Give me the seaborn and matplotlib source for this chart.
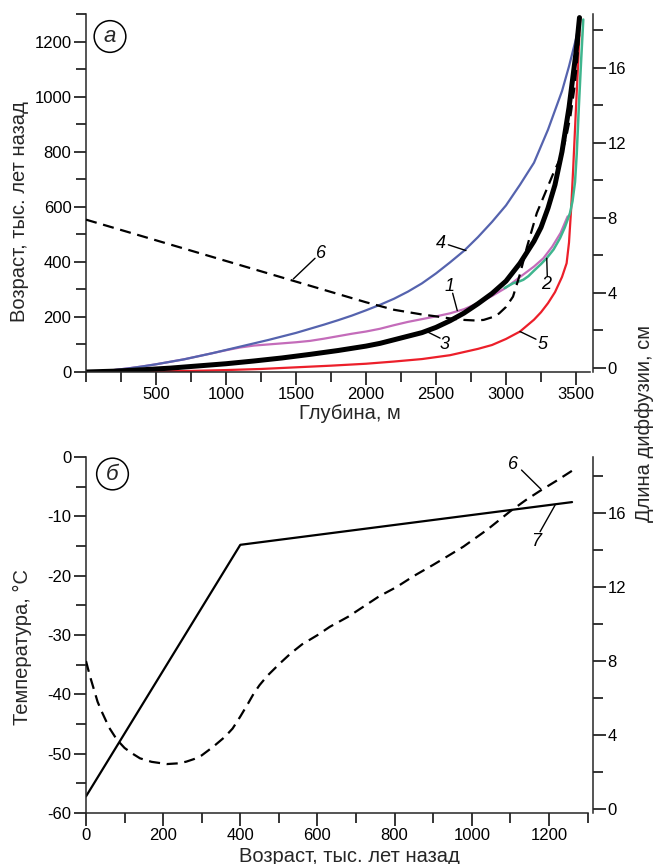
import matplotlib
matplotlib.use("Agg")
import matplotlib.pyplot as plt
from matplotlib.ticker import MultipleLocator, FixedLocator
import numpy as np
import pandas as pd
import seaborn as sns

# ---- data: panel (a), age (ka) vs depth (m) ----
depth_4 = [0, 100, 200, 300, 400, 500, 600, 700, 800, 900, 1000, 1100, 1200, 1300, 1400, 1500,
           1600, 1700, 1800, 1900, 2000, 2100, 2200, 2300, 2400, 2500, 2600, 2700, 2800, 2900,
           3000, 3100, 3200, 3300, 3400, 3450, 3500, 3529]
age_4 = [0, 3, 7, 13, 20, 28, 37, 46, 57, 68, 80, 92, 104, 116, 129, 142,
         157, 172, 188, 205, 224, 244, 266, 292, 322, 358, 398, 440, 490, 545,
         605, 680, 760, 880, 1020, 1110, 1210, 1287]

depth_1 = [0, 100, 200, 300, 400, 500, 600, 700, 800, 900, 1000, 1100, 1200, 1300, 1400, 1500,
           1600, 1700, 1800, 1900, 2000, 2100, 2200, 2300, 2400, 2500, 2600, 2700, 2800, 2900,
           3000, 3100, 3200, 3267, 3330, 3390, 3440]
age_1 = [0, 3, 7, 13, 20, 28, 37, 46, 57, 68, 79, 89, 96, 100, 104, 108,
         113, 121, 130, 139, 147, 157, 170, 182, 192, 202, 213, 228, 250, 276,
         306, 345, 383, 413, 455, 505, 565]

depth_3 = [0, 200, 400, 600, 800, 1000, 1200, 1400, 1600, 1800, 2000, 2100, 2200, 2300, 2400,
           2500, 2600, 2700, 2800, 2900, 3000, 3100, 3200, 3250, 3300, 3350, 3400, 3450, 3500, 3525]
age_3 = [0, 3, 8, 14, 22, 30, 40, 51, 64, 78, 94, 104, 117, 130, 143,
         162, 186, 214, 248, 285, 330, 395, 475, 525, 595, 680, 800, 960, 1160, 1287]

depth_5 = [0, 250, 500, 750, 1000, 1250, 1500, 1750, 2000, 2200, 2400, 2600, 2800, 2900, 3000,
           3100, 3200, 3250, 3300, 3350, 3400, 3433, 3450, 3465, 3480, 3500, 3515, 3530]
age_5 = [0, 1, 2, 4, 7, 11, 17, 23, 30, 38, 47, 61, 84, 98, 120,
         147, 190, 217, 250, 290, 345, 395, 470, 590, 740, 960, 1120, 1286]

depth_2 = [2990, 3050, 3100, 3124, 3160, 3200, 3250, 3290, 3340, 3386, 3420, 3457, 3475, 3493,
           3505, 3520, 3535, 3552]
age_2 = [305, 322, 330, 335, 348, 368, 392, 413, 445, 486, 525, 577, 620, 690,
         790, 960, 1115, 1280]

# diffusion length (cm) vs depth (m)
depth_6 = [0, 500, 1000, 1500, 2000, 2200, 2400, 2500, 2600, 2700, 2780, 2840, 2900, 2950, 3000,
           3050, 3100, 3150, 3220, 3290, 3340, 3390, 3430, 3460, 3490, 3510, 3528]
diff_6_depth = [7.9, 6.8, 5.7, 4.6, 3.5, 3.1, 2.85, 2.75, 2.64, 2.56, 2.53, 2.56, 2.7, 2.9, 3.25,
                3.8, 5.0, 6.45, 8.25, 9.5, 10.4, 11.2, 12.3, 13.4, 15.0, 16.5, 18.3]

# ---- data: panel (б), temperature (°C) and diffusion length (cm) vs age (ka) ----
age_7 = [0, 400, 1260]
temp_7 = [-57.2, -14.8, -7.6]

age_6 = [0, 10, 20, 30, 40, 60, 80, 100, 120, 140, 170, 210, 240, 260, 280, 300, 330, 360, 380,
         400, 420, 435, 450, 470, 503, 530, 560, 600, 632, 680, 720, 760, 805, 850, 900, 940, 978,
         1040, 1100, 1140, 1177, 1220, 1261]
diff_6_age = [8.0, 7.2, 6.5, 5.8, 5.3, 4.4, 3.75, 3.3, 3.0, 2.74, 2.55, 2.43, 2.47, 2.56, 2.7, 2.9,
              3.37, 3.9, 4.35, 5.0, 5.7, 6.25, 6.7, 7.2, 7.88, 8.4, 8.9, 9.4, 9.85, 10.4, 10.95,
              11.5, 12.0, 12.6, 13.2, 13.7, 14.18, 15.1, 16.1, 16.7, 17.2, 17.75, 18.3]

W, H = 653, 864
FONT = ["Liberation Sans", "DejaVu Sans"]

sns.set_theme(style="ticks")
plt.rcParams["font.family"] = FONT
plt.rcParams["axes.unicode_minus"] = False
plt.rcParams["axes.linewidth"] = 1.1

C_BLUE = "#5563ae"
C_RED = "#ec1f2a"
C_MAG = "#c46cba"
C_GREEN = "#3fb58e"
DASH = (0, (5, 3))

fig = plt.figure(figsize=(W / 100, H / 100), dpi=100)


def fx(px):
    return px / W


def fy(py):
    return 1 - py / H


def style_axes(ax, twin, xmajor, xminor, ymajor, yminor, right_offset):
    for s in ("top", "right"):
        ax.spines[s].set_visible(False)
    for s in ("top", "left", "bottom"):
        twin.spines[s].set_visible(False)
    twin.spines["right"].set_position(("outward", right_offset))
    for a in (ax, twin):
        a.set_facecolor("none")
        a.tick_params(which="major", direction="out", length=9, width=1.1,
                      labelsize=12, pad=1.5, color="black", labelcolor="black")
        a.tick_params(which="minor", direction="out", length=7, width=1.1, color="black")
    ax.xaxis.set_major_locator(xmajor)
    ax.xaxis.set_minor_locator(xminor)
    ax.yaxis.set_major_locator(ymajor)
    ax.yaxis.set_minor_locator(yminor)
    twin.yaxis.set_major_locator(FixedLocator([0, 4, 8, 12, 16]))
    twin.yaxis.set_minor_locator(FixedLocator([2, 6, 10, 14, 18]))
    ax.set_xlabel("")
    ax.set_ylabel("")
    twin.set_ylabel("")


def curve(ax, x, y, color, lw, ls="-"):
    sns.lineplot(x=x, y=y, ax=ax, color=color, lw=lw, linestyle=ls,
                 sort=False, estimator=None, solid_joinstyle="round")


def leader(ax, text, txy, p0, p1):
    ax.annotate("", xy=p0, xytext=p1,
                arrowprops=dict(arrowstyle="-", lw=1.0, color="black", shrinkA=0, shrinkB=0))
    ax.text(txy[0], txy[1], text, fontsize=13, style="italic",
            ha="center", va="center", color="black")


# ================= panel (a) =================
ax_a = fig.add_axes([fx(86), fy(372), 504 / W, 358 / H])
ax_a2 = ax_a.twinx()

curve(ax_a, depth_1, age_1, C_MAG, 1.6)
curve(ax_a, depth_4, age_4, C_BLUE, 1.6)
curve(ax_a, depth_5, age_5, C_RED, 1.6)
curve(ax_a, depth_2, age_2, C_GREEN, 1.8)
curve(ax_a, depth_3, age_3, "black", 3.6)
curve(ax_a2, depth_6, diff_6_depth, "black", 1.6, DASH)

ax_a.set_xlim(0, 3600)
ax_a.set_ylim(0, 1300)
ax_a2.set_ylim(-0.213, 18.85)
style_axes(ax_a, ax_a2,
           FixedLocator([500, 1000, 1500, 2000, 2500, 3000, 3500]),
           FixedLocator([0, 250, 750, 1250, 1750, 2250, 2750, 3250]),
           FixedLocator([0, 200, 400, 600, 800, 1000, 1200]),
           MultipleLocator(100), 2.2)

leader(ax_a, "6", (1676, 432), (1481, 338), (1636, 413))
leader(ax_a, "4", (2536, 465), (2588, 462), (2714, 441))
leader(ax_a, "1", (2600, 312), (2619, 286), (2652, 223))
leader(ax_a, "3", (2564, 100), (2434, 147), (2529, 123))
leader(ax_a, "5", (3258, 100), (3100, 147), (3214, 119))
leader(ax_a, "2", (3286, 318), (3291, 413), (3295, 347))

# ================= panel (б) =================
ax_b = fig.add_axes([fx(86), fy(813), 501.5 / W, 356 / H])
ax_b2 = ax_b.twinx()

curve(ax_b, age_7, temp_7, "black", 1.6)
curve(ax_b2, age_6, diff_6_age, "black", 1.6, DASH)

ax_b.set_xlim(0, 1300)
ax_b.set_ylim(-60, 0)
ax_b2.set_ylim(-0.216, 19.03)
style_axes(ax_b, ax_b2,
           FixedLocator([0, 200, 400, 600, 800, 1000, 1200]),
           FixedLocator([100, 300, 500, 700, 900, 1100, 1300]),
           MultipleLocator(10), MultipleLocator(5), 4.0)

leader(ax_b, "6", (1108, -1.2), (1129, -2.2), (1179, -5.4))
leader(ax_b, "7", (1166, -14.2), (1177, -12.6), (1216, -8.1))

# ================= shared text =================
fig.text(fx(110), fy(36.5), "а", fontsize=16, style="italic", ha="center", va="center",
         bbox=dict(boxstyle="circle,pad=0.24", fc="white", ec="black", lw=1.1))
fig.text(fx(112.5), fy(474), "б", fontsize=16, style="italic", ha="center", va="center",
         bbox=dict(boxstyle="circle,pad=0.24", fc="white", ec="black", lw=1.1))

fig.text(fx(20), fy(212), "Возраст, тыс. лет назад", rotation=90, fontsize=14.5,
         ha="center", va="center")
fig.text(fx(22), fy(647), "Температура, °С", rotation=90, fontsize=14.5,
         ha="center", va="center")
fig.text(fx(644), fy(424), "Длина диффузии, см", rotation=90, fontsize=14.5,
         ha="center", va="center")
fig.text(fx(350), fy(413), "Глубина, м", fontsize=14.5, ha="center", va="center")
fig.text(fx(349), fy(856), "Возраст, тыс. лет назад", fontsize=14.5, ha="center", va="center")

fig.savefig("out.png", dpi=100)
